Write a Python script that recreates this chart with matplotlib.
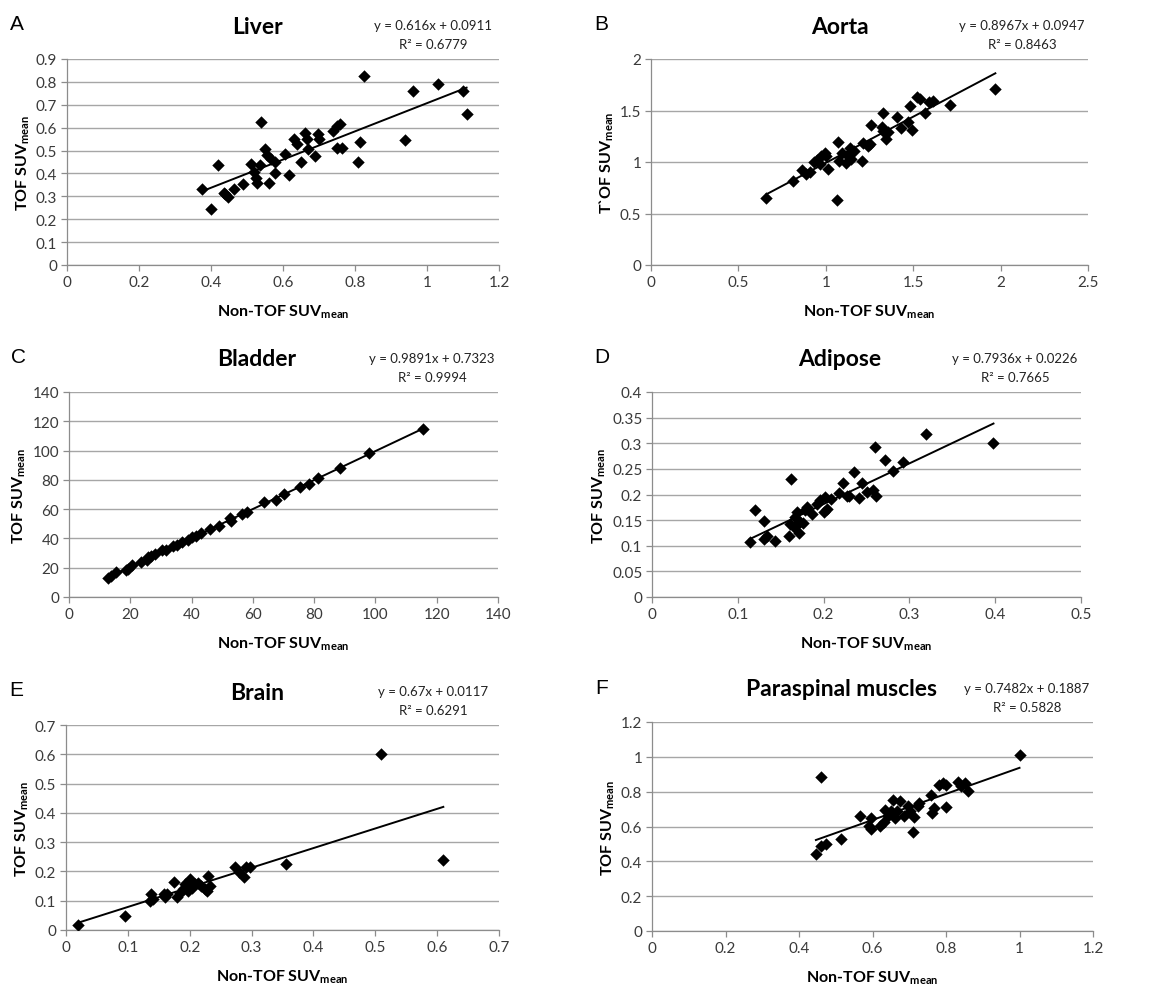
import numpy as np
import matplotlib
matplotlib.use("Agg")
from matplotlib import pyplot as plt

plt.rcParams['font.family'] = ['Lato', 'DejaVu Sans']
plt.rcParams['mathtext.fontset'] = 'custom'
plt.rcParams['mathtext.bf'] = 'Lato:bold'
plt.rcParams['mathtext.rm'] = 'Lato'

# Liver
liver_x = [0.375, 0.40, 0.42, 0.435, 0.448, 0.44, 0.465, 0.49, 0.51, 0.52, 0.525, 0.527, 0.536,
           0.54, 0.55, 0.555, 0.56, 0.568, 0.578, 0.578, 0.605, 0.618, 0.63, 0.638, 0.65, 0.66,
           0.667, 0.67, 0.69, 0.698, 0.70, 0.74, 0.75, 0.757, 0.749, 0.765, 0.807, 0.815, 0.825,
           0.94, 0.96, 1.03, 1.10, 1.11]
liver_y = [0.33, 0.245, 0.435, 0.315, 0.295, 0.31, 0.33, 0.355, 0.44, 0.405, 0.38, 0.36, 0.437,
           0.625, 0.505, 0.48, 0.36, 0.465, 0.448, 0.40, 0.485, 0.395, 0.55, 0.53, 0.45, 0.575,
           0.55, 0.505, 0.475, 0.572, 0.55, 0.585, 0.608, 0.615, 0.513, 0.51, 0.452, 0.538, 0.825,
           0.545, 0.76, 0.79, 0.76, 0.658]

# Aorta
aorta_x = [0.66, 0.81, 0.865, 0.886, 0.909, 0.93, 0.95, 0.966, 0.97, 0.995, 1.0, 1.01, 1.07, 1.065,
           1.077, 1.09, 1.115, 1.128, 1.138, 1.147, 1.162, 1.205, 1.21, 1.242, 1.25, 1.26, 1.32,
           1.325, 1.33, 1.345, 1.357, 1.405, 1.43, 1.471, 1.48, 1.495, 1.52, 1.54, 1.565, 1.59,
           1.614, 1.71, 1.97]
aorta_y = [0.65, 0.82, 0.925, 0.888, 0.905, 1.0, 1.02, 0.98, 1.06, 1.085, 1.06, 0.93, 1.19, 0.63,
           1.01, 1.09, 0.995, 1.06, 1.14, 1.03, 1.11, 1.01, 1.185, 1.157, 1.17, 1.36, 1.34,
           1.475, 1.30, 1.22, 1.293, 1.44, 1.33, 1.39, 1.545, 1.31, 1.635, 1.61, 1.48, 1.585,
           1.595, 1.55, 1.71]

# Bladder
bladder_x = [12.85, 13.8, 15.3, 18.5, 19.3, 20.7, 23.6, 25.3, 25.8, 26.9, 28.0, 30.5, 31.8, 34.0,
             35.1, 37.0, 38.9, 40.3, 41.6, 43.0, 46.0, 49.0, 52.5, 52.8, 56.6, 58.2, 63.6, 67.5,
             70.2, 75.4, 78.4, 81.2, 88.5, 98.0, 115.5]
bladder_y = [13.2, 14.3, 17.1, 18.2, 19.3, 21.6, 23.9, 25.5, 27.3, 28.2, 29.1, 31.9, 31.9, 34.6,
             35.3, 37.6, 38.7, 41.0, 41.9, 43.7, 46.7, 48.3, 53.7, 51.9, 56.5, 57.8, 64.6, 66.5,
             70.6, 75.1, 77.4, 81.5, 88.3, 98.6, 114.7]

# Adipose
adipose_x = [0.114, 0.12, 0.13, 0.13, 0.134, 0.143, 0.16, 0.161, 0.162, 0.165, 0.167, 0.169, 0.171,
             0.173, 0.176, 0.178, 0.181, 0.187, 0.192, 0.196, 0.2, 0.202, 0.204, 0.209, 0.218,
             0.223, 0.227, 0.23, 0.235, 0.241, 0.245, 0.251, 0.258, 0.26, 0.261, 0.272, 0.2805,
             0.2925, 0.319, 0.398]
adipose_y = [0.107, 0.17, 0.148, 0.114, 0.119, 0.11, 0.12, 0.143, 0.23, 0.137, 0.156, 0.166, 0.124,
             0.146, 0.144, 0.169, 0.176, 0.161, 0.182, 0.19, 0.166, 0.195, 0.172, 0.192, 0.202,
             0.222, 0.198, 0.198, 0.243, 0.194, 0.223, 0.205, 0.208, 0.292, 0.198, 0.268, 0.245,
             0.263, 0.318, 0.30]

# Brain
brain_x = [0.02, 0.095, 0.135, 0.137, 0.141, 0.158, 0.16, 0.163, 0.175, 0.179, 0.185, 0.189, 0.193,
           0.198, 0.201, 0.203, 0.209, 0.214, 0.218, 0.225, 0.228, 0.229, 0.232, 0.274, 0.279,
           0.287, 0.291, 0.298, 0.356, 0.51, 0.61]
brain_y = [0.018, 0.049, 0.10, 0.123, 0.106, 0.123, 0.111, 0.123, 0.165, 0.111, 0.128, 0.14, 0.157,
           0.132, 0.174, 0.145, 0.157, 0.162, 0.151, 0.14, 0.134, 0.185, 0.151, 0.214, 0.197,
           0.182, 0.214, 0.216, 0.225, 0.60, 0.24]

# Paraspinal muscles
para_x = [0.446, 0.46, 0.46, 0.474, 0.515, 0.567, 0.59, 0.597, 0.597, 0.621, 0.63, 0.635, 0.641,
          0.649, 0.656, 0.66, 0.667, 0.676, 0.685, 0.696, 0.703, 0.71, 0.712, 0.723, 0.726, 0.76,
          0.762, 0.766, 0.78, 0.792, 0.801, 0.801, 0.833, 0.842, 0.851, 0.86, 1.0]
para_y = [0.44, 0.887, 0.488, 0.499, 0.528, 0.659, 0.601, 0.586, 0.649, 0.605, 0.624, 0.697, 0.66,
          0.691, 0.753, 0.651, 0.687, 0.749, 0.662, 0.718, 0.691, 0.570, 0.653, 0.718, 0.733, 0.781,
          0.676, 0.707, 0.841, 0.849, 0.841, 0.711, 0.854, 0.835, 0.849, 0.806, 1.01]

panels = [
    # letter, title, x, y, slope, intercept, r2, xmax, xstep, ymax, ystep, ylabel
    ('A', 'Liver', liver_x, liver_y, 0.616, 0.0911, 0.6779, 1.2, 0.2, 0.9, 0.1, 'TOF SUV'),
    ('B', 'Aorta', aorta_x, aorta_y, 0.8967, 0.0947, 0.8463, 2.5, 0.5, 2.0, 0.5, 'T`OF SUV'),
    ('C', 'Bladder', bladder_x, bladder_y, 0.9891, 0.7323, 0.9994, 140, 20, 140, 20, 'TOF SUV'),
    ('D', 'Adipose', adipose_x, adipose_y, 0.7936, 0.0226, 0.7665, 0.5, 0.1, 0.4, 0.05, 'TOF SUV'),
    ('E', 'Brain', brain_x, brain_y, 0.67, 0.0117, 0.6291, 0.7, 0.1, 0.7, 0.1, 'TOF SUV'),
    ('F', 'Paraspinal muscles', para_x, para_y, 0.7482, 0.1887, 0.5828, 1.2, 0.2, 1.2, 0.2, 'TOF SUV'),
]

# axes boxes in pixels: left, right, top, bottom
boxes = [(67, 499, 60, 266), (651, 1088, 60, 266),
         (69, 498, 393, 598), (652, 1081, 393, 598),
         (66, 499, 726, 931), (652, 1093, 723, 932)]

W, H = 1156, 987
fig = plt.figure(figsize=(W / 100, H / 100), dpi=100)


def fmt(v):
    s = ('%.2f' % v).rstrip('0').rstrip('.')
    return s


for (letter, title, xs, ys, m, b, r2, xmax, xstep, ymax, ystep, ylab), (l, r, t, bt) in zip(panels, boxes):
    ax = fig.add_axes([l / W, 1 - bt / H, (r - l) / W, (bt - t) / H])
    ax.scatter(xs, ys, marker='D', s=40, color='black', zorder=3, linewidths=0)
    xx = np.array([min(xs), max(xs)])
    ax.plot(xx, m * xx + b, color='black', lw=1.4, zorder=2)

    ax.set_xlim(0, xmax)
    ax.set_ylim(0, ymax)
    xt = np.arange(0, xmax + xstep / 2, xstep)
    yt = np.arange(0, ymax + ystep / 2, ystep)
    ax.set_xticks(xt)
    ax.set_yticks(yt)
    ax.set_xticklabels([fmt(v) for v in xt])
    ax.set_yticklabels([fmt(v) for v in yt])
    ax.tick_params(axis='both', labelsize=11, labelcolor='#3a3a3a', length=4, width=0.9, pad=3,
                   color='#8c8c8c')
    ax.grid(axis='y', color='#a6a6a6', lw=1)
    ax.set_axisbelow(True)
    for sp in ['top', 'right']:
        ax.spines[sp].set_visible(False)
    for sp in ['left', 'bottom']:
        ax.spines[sp].set_color('#8c8c8c')
        ax.spines[sp].set_linewidth(0.9)

    ax.set_xlabel(r'Non-TOF SUV$_{\mathbf{mean}}$', fontsize=11.5, fontweight='bold', labelpad=10)
    ax.set_ylabel(ylab + r'$_{\mathbf{mean}}$', fontsize=11.5, fontweight='bold', labelpad=3)

    if letter == 'F':
        tx = 841
    elif letter in 'ACE':
        tx = 257
    else:
        tx = 840
    fig.text(tx / W, 1 - (t - 33) / H, title, fontsize=16.5, fontweight='bold',
             ha='center', va='center')
    ex = (r - 66) / W
    fig.text(ex, 1 - (t - 34) / H, 'y = %sx + %s' % (m, b), fontsize=9.5,
             ha='center', va='center', color='#222222')
    fig.text(ex, 1 - (t - 15) / H, 'R² = %s' % r2, fontsize=9.5,
             ha='center', va='center', color='#222222')
    fig.text((l - 50) / W, 1 - (t - 35) / H, letter, fontsize=15, ha='center', va='center',
             family=['Liberation Sans', 'DejaVu Sans'])

plt.savefig('out.png', dpi=100)
